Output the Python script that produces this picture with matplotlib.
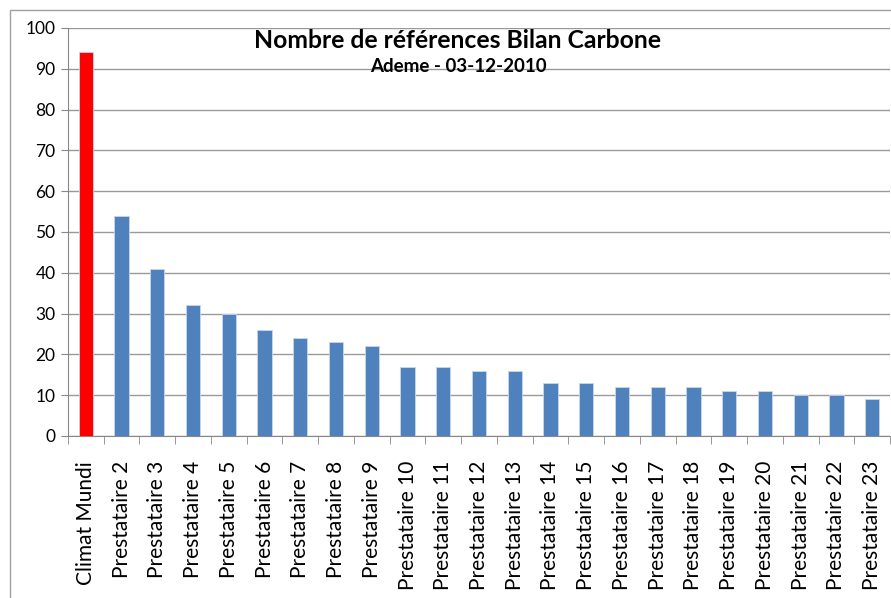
import numpy as np
import matplotlib
matplotlib.use("Agg")
import matplotlib.pyplot as plt
from matplotlib.patches import Rectangle

categories = ["Climat Mundi"] + [f"Prestataire {i}" for i in range(2, 24)]
values = [94, 54, 41, 32, 30, 26, 24, 23, 22, 17, 17, 16, 16,
          13, 13, 12, 12, 12, 11, 11, 10, 10, 9]
colors = ["#ff0000"] + ["#4f81bd"] * 22

plt.rcParams["font.family"] = ["Lato", "DejaVu Sans"]

W, H = 891, 598
fig = plt.figure(figsize=(W / 100, H / 100), dpi=100)

# outer chart frame (cut off at right/bottom like the screenshot)
fig.patches.append(Rectangle((10 / W, -0.05), 1.0, 1 - 10 / H + 0.05,
                             transform=fig.transFigure, fill=False,
                             edgecolor="#a0a0a0", linewidth=1.0))

ax = fig.add_axes([68 / W, 1 - 436 / H, (890 - 68) / W, (436 - 28) / H])
x = np.arange(len(categories))
ax.bar(x, values, width=0.4, color=colors, edgecolor="#c8d6ea",
       linewidth=0.6, zorder=3)

ax.set_xlim(-0.5, len(categories) - 0.5)
ax.set_ylim(0, 100)
ax.set_yticks(np.arange(0, 101, 10))
ax.tick_params(axis="y", labelsize=12.5, length=5, color="#888888",
               pad=4)
ax.yaxis.grid(True, color="#999999", linewidth=1.0, zorder=0)

ax.set_xticks(x)
ax.set_xticklabels(categories, rotation=90, fontsize=15)
ax.tick_params(axis="x", length=0, pad=18)
ax.set_xticks(np.arange(-0.5, len(categories), 1), minor=True)
ax.tick_params(axis="x", which="minor", length=6, color="#888888")

for side in ["top", "right"]:
    ax.spines[side].set_visible(False)
ax.spines["left"].set_color("#888888")
ax.spines["bottom"].set_color("#888888")

fig.text(458 / W, 1 - 40 / H, "Nombre de références Bilan Carbone",
         ha="center", va="center", fontsize=17.8, fontweight="bold")
fig.text(458 / W, 1 - 67 / H, "Ademe - 03-12-2010",
         ha="center", va="center", fontsize=13.5, fontweight="bold")

fig.savefig("out.png", dpi=100)
